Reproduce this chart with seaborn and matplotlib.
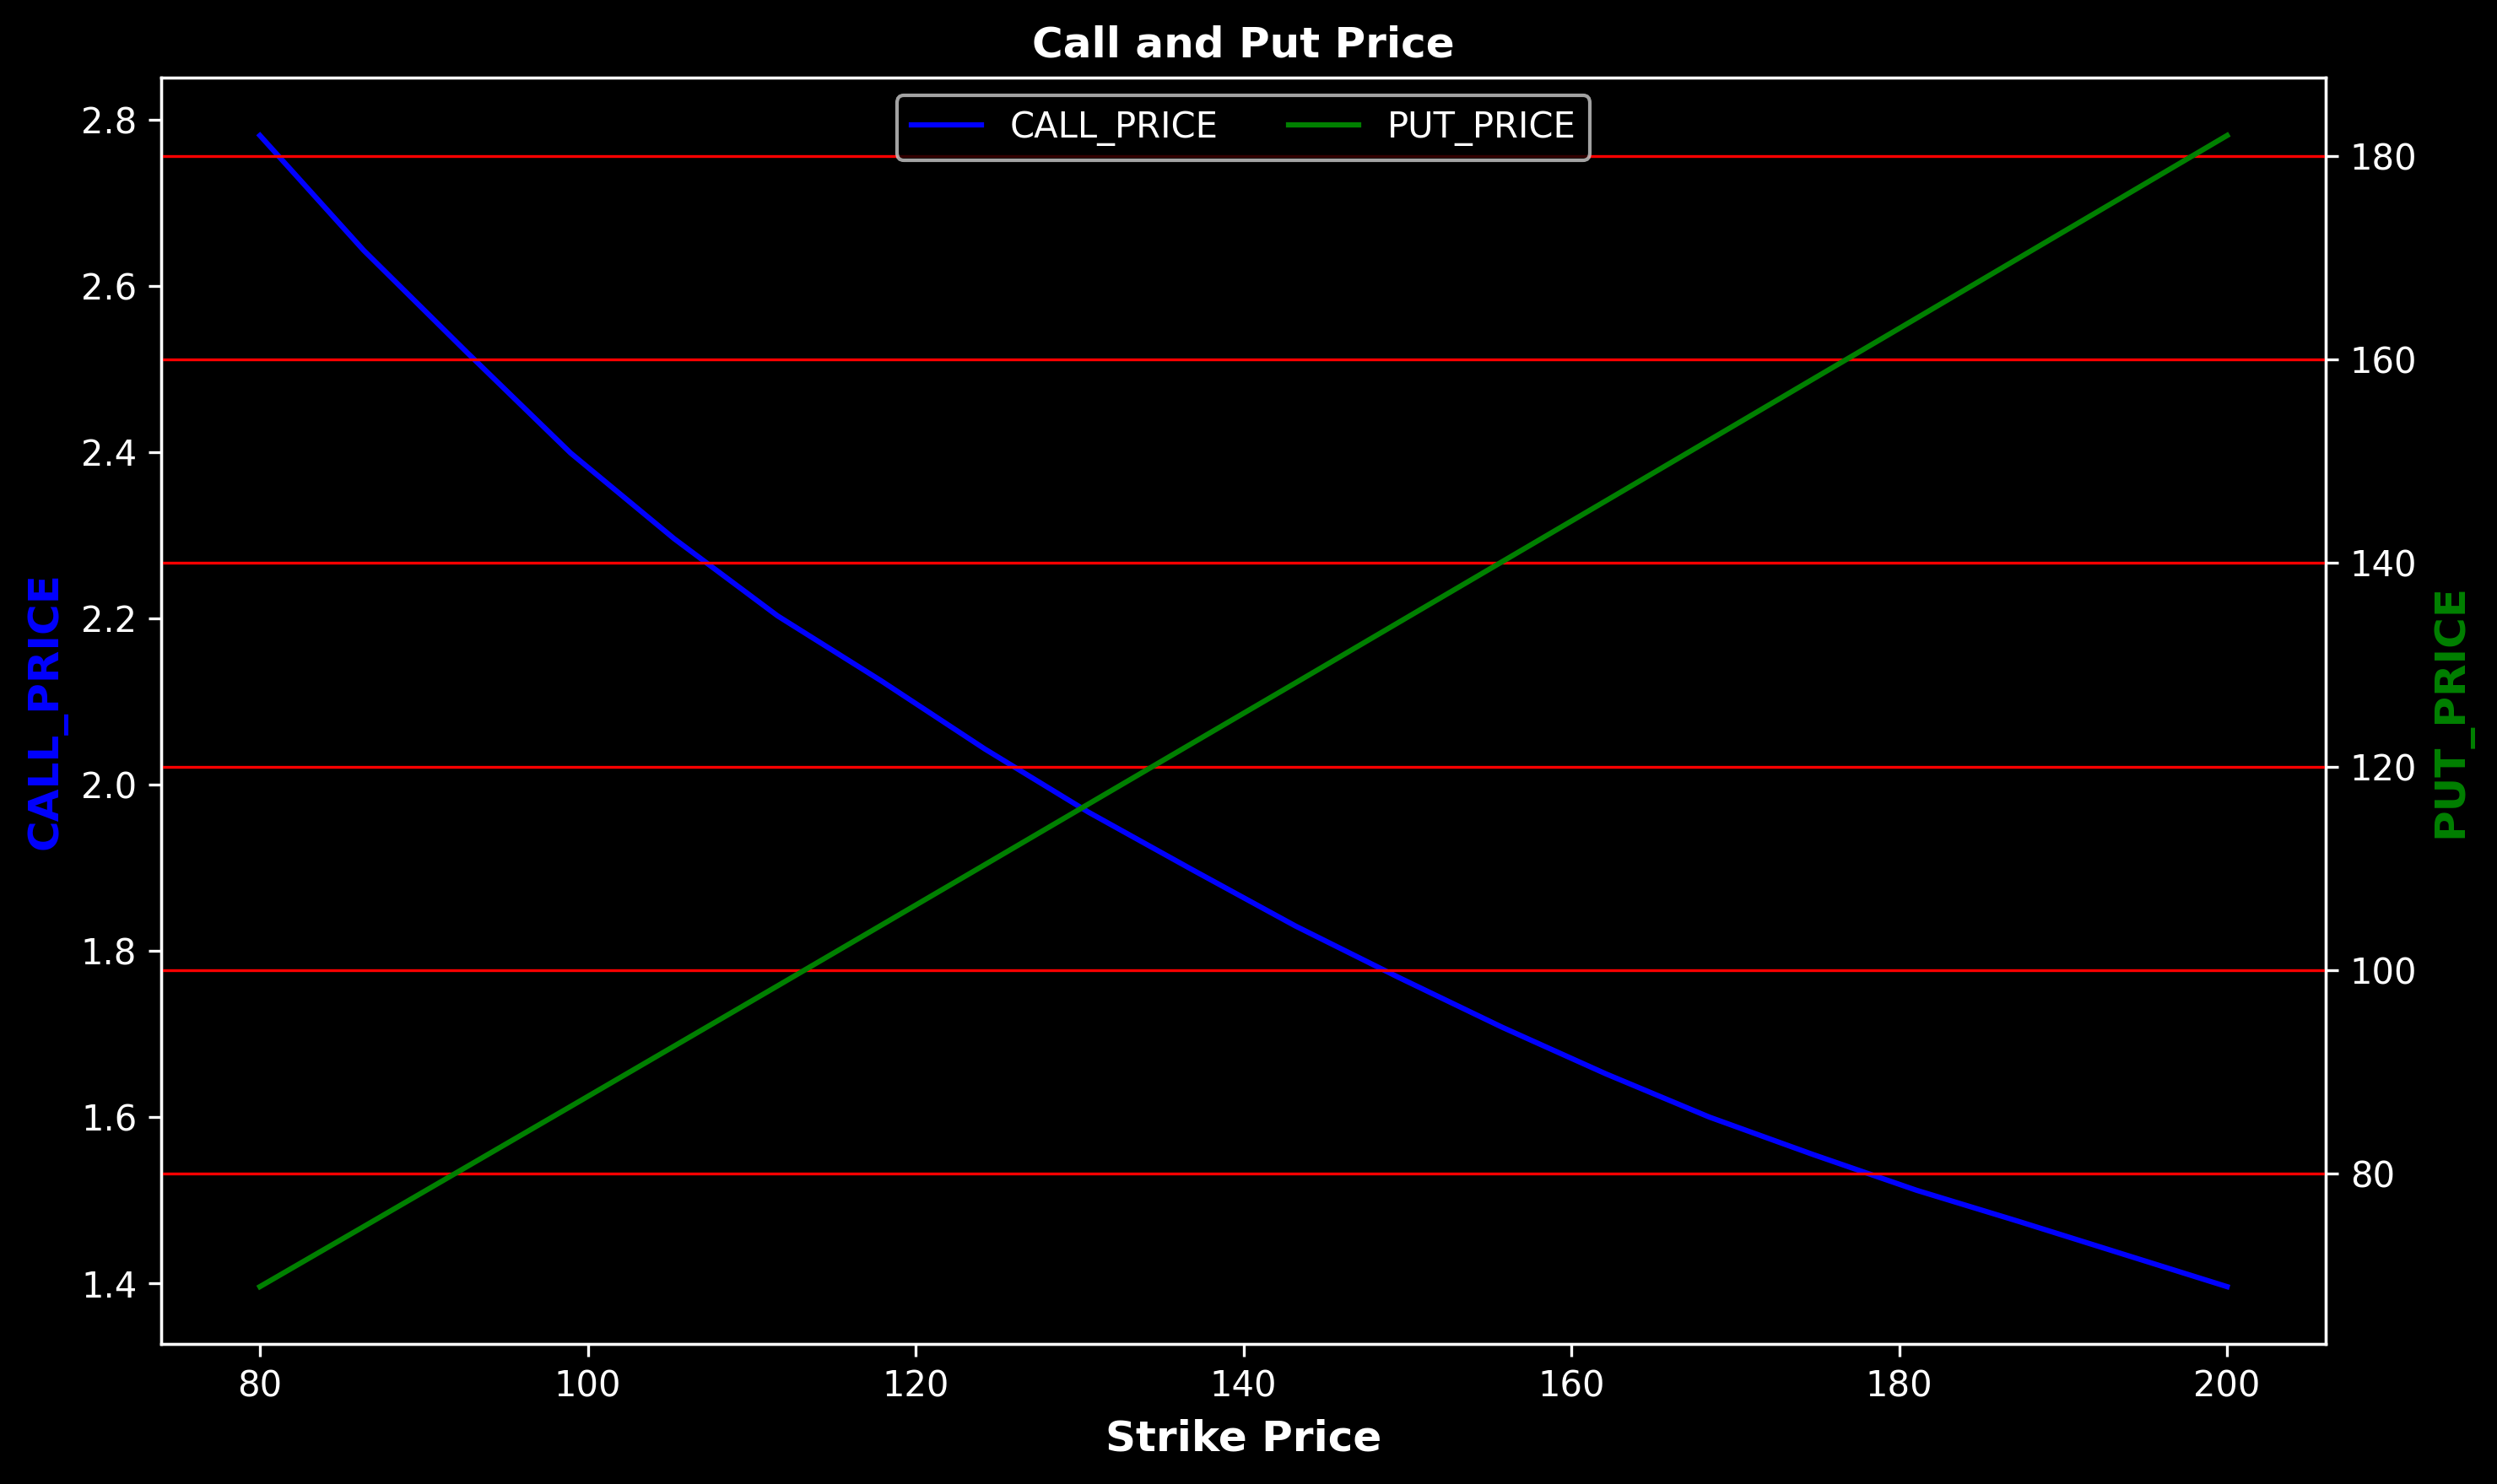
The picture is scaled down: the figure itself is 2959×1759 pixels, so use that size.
import matplotlib
matplotlib.use("Agg")
import matplotlib.pyplot as plt
import seaborn as sns


# Values (20 strikes between 80 and 200)
STRIKES = [80.0, 86.32, 92.63, 98.95, 105.26, 111.58, 117.89, 124.21, 130.53, 136.84,
           143.16, 149.47, 155.79, 162.11, 168.42, 174.74, 181.05, 187.37, 193.68, 200.0]
CALL_PRICE = [2.781, 2.643, 2.520, 2.399, 2.296, 2.203, 2.125, 2.043, 1.967, 1.898,
              1.830, 1.768, 1.708, 1.652, 1.600, 1.555, 1.512, 1.474, 1.435, 1.396]
PUT_PRICE = [68.90, 74.79, 80.69, 86.60, 92.52, 98.45, 104.39, 110.34, 116.30, 122.25,
             128.20, 134.16, 140.13, 146.10, 152.07, 158.06, 164.03, 170.02, 176.00, 181.99]

TITLE = "Call and Put Price"
X_LABEL = "Strike Price"
CALL_LABEL = "CALL_PRICE"
PUT_LABEL = "PUT_PRICE"


def main():
    plt.style.use("dark_background")

    fig, ax1 = plt.subplots(figsize=(2959 / 300, 1759 / 300))
    fig.subplots_adjust(left=0.0647, right=0.9313, top=0.9475, bottom=0.0942)

    sns.lineplot(x=STRIKES, y=CALL_PRICE, ax=ax1, color="blue", label=CALL_LABEL, linewidth=1.5)
    ax1.set_xlabel(X_LABEL, fontsize=12, fontweight="bold")
    ax1.set_ylabel(CALL_LABEL, color="blue", fontsize=12, fontweight="bold")
    ax1.set_title(TITLE, fontsize=12, fontweight="bold")

    ax2 = ax1.twinx()
    sns.lineplot(x=STRIKES, y=PUT_PRICE, ax=ax2, color="green", label=PUT_LABEL, linewidth=1.5)
    ax2.set_ylabel(PUT_LABEL, color="green", fontsize=12, fontweight="bold")
    ax2.grid(True, axis="y", color="red", linewidth=0.8)

    h1, l1 = ax1.get_legend_handles_labels()
    h2, l2 = ax2.get_legend_handles_labels()
    if ax1.get_legend() is not None:
        ax1.get_legend().remove()
    ax2.legend(h1 + h2, l1 + l2, loc="upper center", ncol=2, fontsize=10)

    fig.savefig("out.png", dpi=300)
    plt.close(fig)


if __name__ == "__main__":
    main()
